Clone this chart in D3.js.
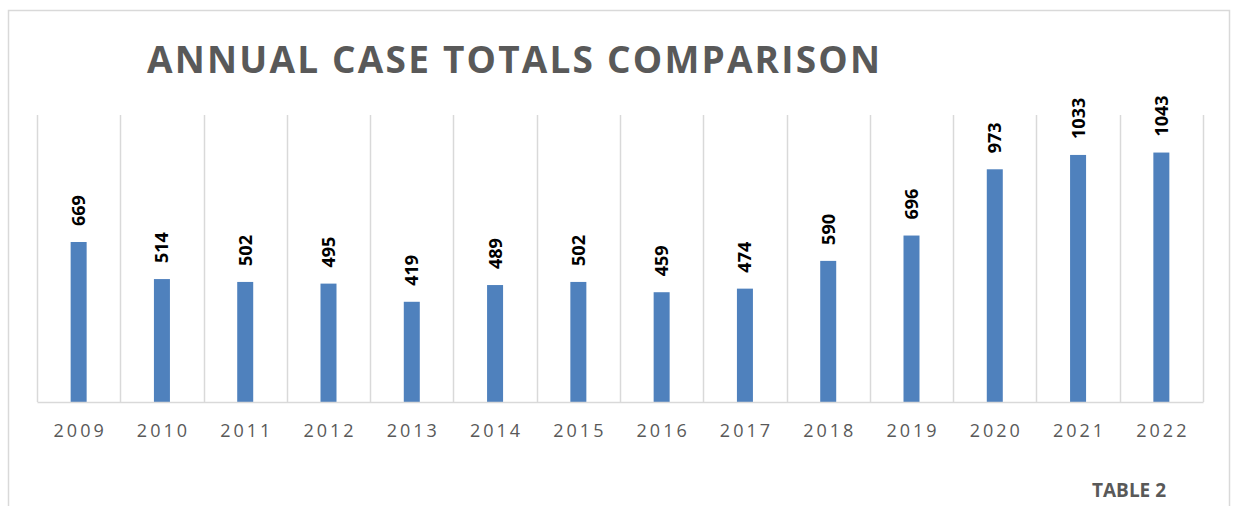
<!DOCTYPE html>
<html>
<head>
<meta charset="utf-8">
<script src="https://cdn.jsdelivr.net/npm/d3@7"></script>
<style>
  body { margin: 0; background: #fff; }
  svg { display: block; }
</style>
</head>
<body>
<div id="chart"></div>
<script>
// data
var years = ["2009", "2010", "2011", "2012", "2013", "2014", "2015",
             "2016", "2017", "2018", "2019", "2020", "2021", "2022"];
var cases = [669, 514, 502, 495, 419, 489, 502, 459, 474, 590, 696, 973, 1033, 1043];
var yDomain = [0, 1200];

var W = 1233, H = 506;
var margin = {top: 115, right: 30, bottom: 104, left: 37},
    width = 1203 - margin.left,
    height = 402 - margin.top;

var svg = d3.select("#chart").append("svg")
    .attr("width", W)
    .attr("height", H);

// outer chart frame (bottom edge is cut off)
svg.append("rect")
    .attr("x", 8.5).attr("y", 10.5)
    .attr("width", 1221).attr("height", 520)
    .attr("fill", "none")
    .attr("stroke", "#d9d9d9")
    .attr("stroke-width", 1.5);

var g = svg.append("g")
    .attr("transform", "translate(" + margin.left + "," + margin.top + ")");

var x = d3.scaleBand()
    .domain(years)
    .range([0, width])
    .padding(0);

var y = d3.scaleLinear()
    .domain(yDomain)
    .range([height, 0]);

// vertical category gridlines
var bounds = years.map(function(d) { return x(d); }).concat([width]);
g.selectAll(".grid")
    .data(bounds)
  .enter().append("line")
    .attr("class", "grid")
    .attr("x1", function(d) { return Math.round(d) + 0.5; })
    .attr("x2", function(d) { return Math.round(d) + 0.5; })
    .attr("y1", y(yDomain[1]))
    .attr("y2", height)
    .attr("stroke", "#d9d9d9")
    .attr("stroke-width", 1.5);

var barW = 16;
g.selectAll(".bar")
    .data(years)
  .enter().append("rect")
    .attr("class", "bar")
    .attr("x", function(d) { return x(d) + x.bandwidth() / 2 - barW / 2; })
    .attr("width", barW)
    .attr("y", function(d, i) { return y(cases[i]); })
    .attr("height", function(d, i) { return height - y(cases[i]); })
    .attr("fill", "#4f81bd");

// value labels, rotated
g.selectAll(".val")
    .data(years)
  .enter().append("text")
    .attr("class", "val")
    .attr("transform", function(d, i) {
      return "translate(" + (x(d) + x.bandwidth() / 2 + 6.5) + "," + (y(cases[i]) - 16) + ") rotate(-90)";
    })
    .attr("text-anchor", "start")
    .style("font-family", '"Open Sans", sans-serif')
    .style("font-weight", "700")
    .style("font-size", "18px")
    .attr("fill", "#000")
    .text(function(d, i) { return cases[i]; });

// x axis
var xAxis = g.append("g")
    .attr("class", "x axis")
    .attr("transform", "translate(0," + height + ")")
    .call(d3.axisBottom(x).tickSize(0).tickPadding(0));
xAxis.select(".domain")
    .attr("stroke", "#d9d9d9")
    .attr("stroke-width", 1.5);
xAxis.selectAll("text")
    .attr("y", 35)
    .attr("dy", 0)
    .attr("dx", 1.5)
    .attr("fill", "#595959")
    .style("font-family", '"Open Sans", sans-serif')
    .style("font-size", "18px")
    .style("letter-spacing", "3px");

// title
svg.append("text")
    .attr("class", "title")
    .attr("x", 147)
    .attr("y", 73)
    .attr("textLength", 733)
    .attr("lengthAdjust", "spacing")
    .attr("fill", "#595959")
    .style("font-family", '"Open Sans", sans-serif')
    .style("font-weight", "700")
    .style("font-size", "37px")
    .text("ANNUAL CASE TOTALS COMPARISON");

svg.append("text")
    .attr("x", 1092)
    .attr("y", 497)
    .attr("fill", "#595959")
    .style("font-family", '"Open Sans", sans-serif')
    .style("font-weight", "700")
    .style("font-size", "19px")
    .text("TABLE 2");
</script>
</body>
</html>
